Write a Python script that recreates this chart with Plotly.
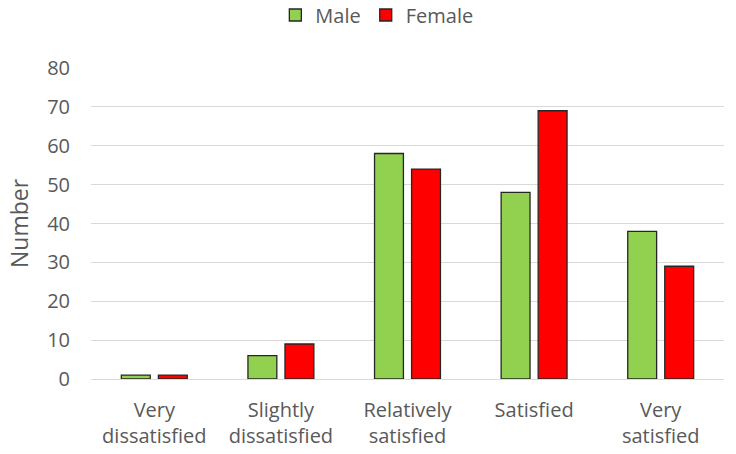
import plotly.graph_objects as go

categories = ["Very<br>dissatisfied", "Slightly<br>dissatisfied", "Relatively<br>satisfied", "Satisfied", "Very<br>satisfied"]
male = [1, 6, 58, 48, 38]
female = [1, 9, 54, 69, 29]
y_ticks = [0, 10, 20, 30, 40, 50, 60, 70, 80]

fig = go.Figure()
fig.add_trace(go.Bar(name="Male", x=categories, y=male, marker=dict(color="#92D050", line=dict(color="#262626", width=1.3))))
fig.add_trace(go.Bar(name="Female", x=categories, y=female, marker=dict(color="#FF0000", line=dict(color="#262626", width=1.3))))

font_family = "Open Sans, Liberation Sans, sans-serif"
fig.update_layout(
    width=736, height=454,
    margin=dict(l=91, r=12, t=68, b=75),
    plot_bgcolor="white", paper_bgcolor="white",
    barmode="group", bargap=0.415, bargroupgap=0.22,
    font=dict(family=font_family, size=20, color="#595959"),
    legend=dict(orientation="h", x=0.512, xanchor="center", xref="container",
                y=0.967, yanchor="middle", yref="container",
                font=dict(size=20, color="#595959"),
                itemwidth=30, traceorder="normal"),
    xaxis=dict(showline=False, ticks="", ticklabelstandoff=17, automargin=False,
               tickfont=dict(size=20, color="#595959")),
    yaxis=dict(range=[0, 80], tickvals=y_ticks, showgrid=True, gridcolor="#D9D9D9", gridwidth=1,
               zeroline=True, zerolinecolor="#D9D9D9", zerolinewidth=1,
               ticks="", ticklabelstandoff=20, automargin=False,
               title=dict(text="Number", font=dict(size=23, color="#595959"), standoff=12),
               tickfont=dict(size=20, color="#595959")),
)
fig.write_html("out.html")
